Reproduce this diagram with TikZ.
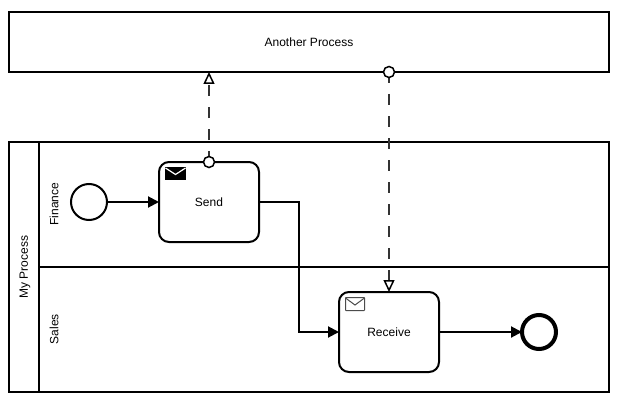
\documentclass[tikz,border=0pt]{standalone}
\usepackage{fontspec}
\setmainfont{Liberation Sans}
\usetikzlibrary{arrows.meta}

\definecolor{dashgray}{gray}{0.2}

\tikzset{
    box/.style={draw, line width=2pt, outer sep=0pt, inner sep=0pt, font=\fontsize{12}{14}\selectfont},
    task/.style={box, rounded corners=10pt, minimum width=100pt, minimum height=80pt},
    event/.style={draw, circle, line width=2pt, outer sep=0pt, inner sep=0pt, minimum size=36pt},
    port/.style={draw, circle, fill=white, line width=1.5pt, outer sep=0pt, inner sep=0pt, minimum size=11pt},
    flow/.style={line width=2pt, -{Triangle[length=11pt,width=11pt]}},
    msgflow/.style={color=dashgray, line width=1.5pt, dash pattern=on 11pt off 11pt, -{Triangle[open,fill=white,color=black,length=12pt,width=11pt,line width=1.5pt]}},
    lanelabel/.style={rotate=90, font=\fontsize{12}{14}\selectfont}
}

\begin{document}
\begin{tikzpicture}[x=1pt,y=-1pt]
    \useasboundingbox (0,0) rectangle (617,401);
    \fill[white] (0,0) rectangle (617,401);

    % POOLS
    \node[box, minimum width=600pt, minimum height=60pt] (another) at (309,42) {Another Process};
    \node[box, minimum width=600pt, minimum height=250pt] (pool) at (309,267) {};
    \draw[line width=2pt] (39,142)--(39,392);
    \draw[line width=2pt] (39,267)--(609,267);
    \node[lanelabel] (mine) at (25,267) {My Process};
    \node[lanelabel] (finance) at (54,204) {Finance};
    \node[lanelabel] (sales) at (54,329) {Sales};

    % EVENTS AND TASKS
    \node[event] (start) at (89,202) {};
    \node[task] (send) at (209,202) {Send};
    \node[task] (receive) at (389,332) {Receive};
    \node[event, line width=4pt, minimum size=34pt] (end) at (539,332) {};
    \coordinate (bend) at (299,267);
    \coordinate (sendtop) at (send.north);
    \coordinate (anothertop) at (389,72);

    % SEQUENCE FLOW
    \draw[flow] (start)--(send);
    \draw[flow] (send.east) -| (bend) |- (receive.west);
    \draw[flow] (receive)--(end);

    % MESSAGE FLOW
    \draw[msgflow] (sendtop)--(sendtop |- another.south);
    \draw[msgflow] (anothertop)--(receive.north);
    \node[port] (sendport) at (sendtop) {};
    \node[port] (anotherport) at (anothertop) {};

    % ENVELOPES
    \draw[fill=black, line width=1pt] (165.5,167.5) rectangle (185.5,179.5);
    \draw[white, line width=1.2pt] (165.5,168) -- (175.5,174.5) -- (185.5,168);
    \draw[line width=1pt, rounded corners=0.5pt, black!70] (345.5,297.5) rectangle (364.5,310.5);
    \draw[line width=1pt, black!70] (345.5,298) -- (355,305) -- (364.5,298);
\end{tikzpicture}
\end{document}
